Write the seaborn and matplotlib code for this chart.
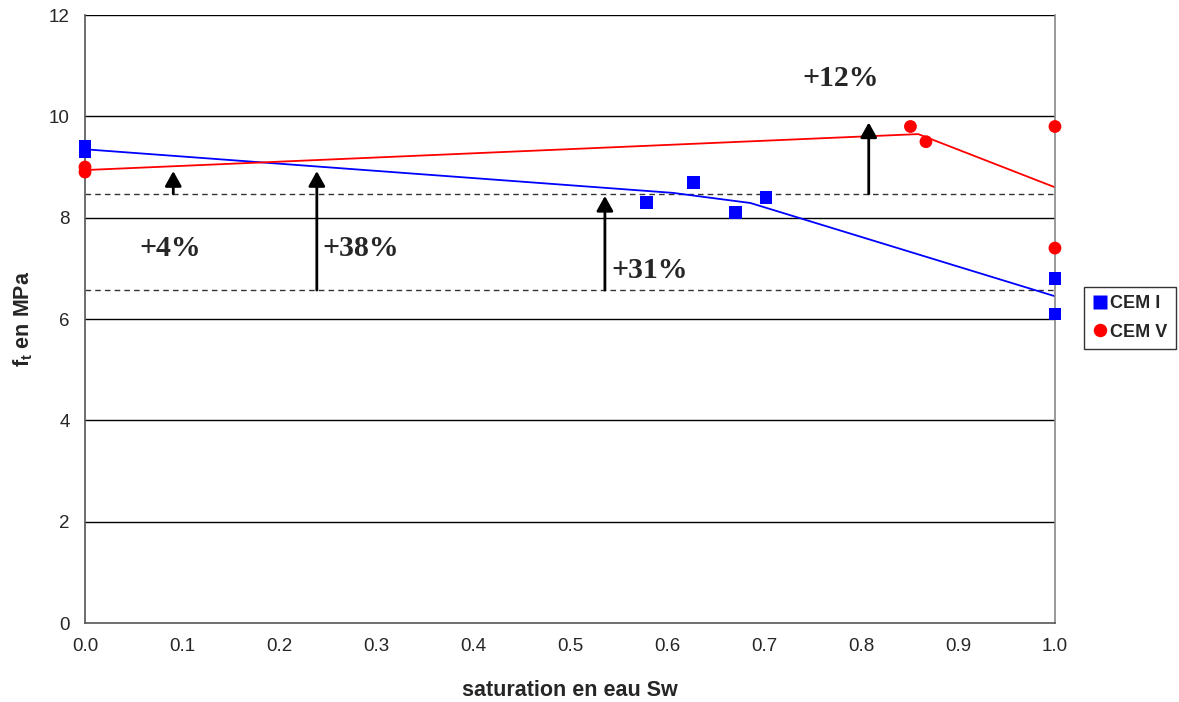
import numpy as np
import pandas as pd
import matplotlib
matplotlib.use("Agg")
import matplotlib.pyplot as plt
from matplotlib.font_manager import FontProperties
import seaborn as sns

# ---- data ----
cem1_sw = [0.0, 0.0, 0.579, 0.627, 0.671, 0.702, 1.0, 1.0]
cem1_ft = [9.4, 9.3, 8.3, 8.7, 8.1, 8.4, 6.8, 6.1]
cem5_sw = [0.0, 0.0, 0.851, 0.867, 1.0, 1.0]
cem5_ft = [9.0, 8.9, 9.8, 9.5, 9.8, 7.4]

# trend lines
cem1_line_sw = [0.0, 0.606, 0.686, 1.0]
cem1_line_ft = [9.35, 8.49, 8.29, 6.45]
cem5_line_sw = [0.0, 0.859, 1.0]
cem5_line_ft = [8.94, 9.65, 8.6]

# reference levels (dashed)
ref_levels = [8.47, 6.57]

# arrows: x, start, end, label, label x, label y
arrow_x = [0.091, 0.239, 0.536, 0.808]
arrow_start = [8.47, 6.57, 6.57, 8.47]
arrow_end = [8.92, 8.92, 8.43, 9.88]
arrow_labels = ["+4%", "+38%", "+31%", "+12%"]
label_x = [0.056, 0.245, 0.543, 0.74]
label_y = [7.4, 7.4, 6.95, 10.74]

pts = pd.DataFrame({
    "sw": cem1_sw + cem5_sw,
    "ft": cem1_ft + cem5_ft,
    "serie": ["CEM I"] * len(cem1_sw) + ["CEM V"] * len(cem5_sw),
})

sns.set_style("white")
plt.rcParams["font.family"] = ["Liberation Sans", "DejaVu Sans"]
plt.rcParams["mathtext.fontset"] = "custom"
plt.rcParams["mathtext.rm"] = "Liberation Sans"
plt.rcParams["mathtext.bf"] = "Liberation Sans:bold"

fig = plt.figure(figsize=(11.79, 7.02), dpi=100)
ax = fig.add_axes([0.0721, 0.1125, 0.8227, 0.8661])

# gridlines
for g in [2, 4, 6, 8, 10, 12]:
    ax.axhline(g, color="black", lw=1, zorder=1)
for lv in ref_levels:
    ax.axhline(lv, color="#333333", lw=1, ls=(0, (4, 3)), zorder=1)

sns.lineplot(x=cem1_line_sw, y=cem1_line_ft, sort=False, color="#0000ff",
             lw=1.3, ax=ax, zorder=2)
sns.lineplot(x=cem5_line_sw, y=cem5_line_ft, sort=False, color="#ff0000",
             lw=1.3, ax=ax, zorder=2)

sns.scatterplot(data=pts, x="sw", y="ft", hue="serie", style="serie",
                palette={"CEM I": "#0000ff", "CEM V": "#ff0000"},
                markers={"CEM I": "s", "CEM V": "o"},
                s=85, edgecolor="none", ax=ax, zorder=4)
for c in ax.collections:
    c.set_clip_on(False)

for x, y0, y1 in zip(arrow_x, arrow_start, arrow_end):
    ax.annotate("", xy=(x, y1), xytext=(x, y0),
                arrowprops=dict(arrowstyle="-|>,head_length=0.9,head_width=0.5",
                                color="black", lw=2, shrinkA=0, shrinkB=0),
                zorder=3)
serif_bold = FontProperties(family="Liberation Serif", weight="bold", size=21.5)
for t, x, y in zip(arrow_labels, label_x, label_y):
    ax.text(x, y, t, fontproperties=serif_bold, va="center", ha="left")

ax.set_xlim(0, 1)
ax.set_ylim(0, 12)
ax.set_xticks(np.arange(0, 1.01, 0.1))
ax.set_xticklabels([f"{v:.1f}" for v in np.arange(0, 1.01, 0.1)])
ax.set_yticks(range(0, 13, 2))
ax.tick_params(axis="both", direction="out", length=5, width=1,
               labelsize=13.5, color="#555555", pad=6)

ax.spines["top"].set_visible(False)
ax.spines["left"].set_color("#555555")
ax.spines["right"].set_color("#888888")
ax.spines["bottom"].set_color("#555555")
for s in ax.spines.values():
    s.set_linewidth(1.2)

ax.set_xlabel("saturation en eau Sw", fontsize=15.5, fontweight="bold", labelpad=18)
ax.set_ylabel(r"f$_\mathbf{t}$ en MPa", fontsize=15.5, fontweight="bold", labelpad=10)

leg = ax.legend(loc="upper left", bbox_to_anchor=(1.03, 0.553), frameon=True,
                fancybox=False, edgecolor="black",
                prop={"weight": "bold", "size": 13}, handletextpad=0.1,
                borderpad=0.45, labelspacing=0.65, handlelength=0.9,
                borderaxespad=0, markerscale=1.05)
leg.get_frame().set_linewidth(1)

fig.savefig("out.png", dpi=100)
